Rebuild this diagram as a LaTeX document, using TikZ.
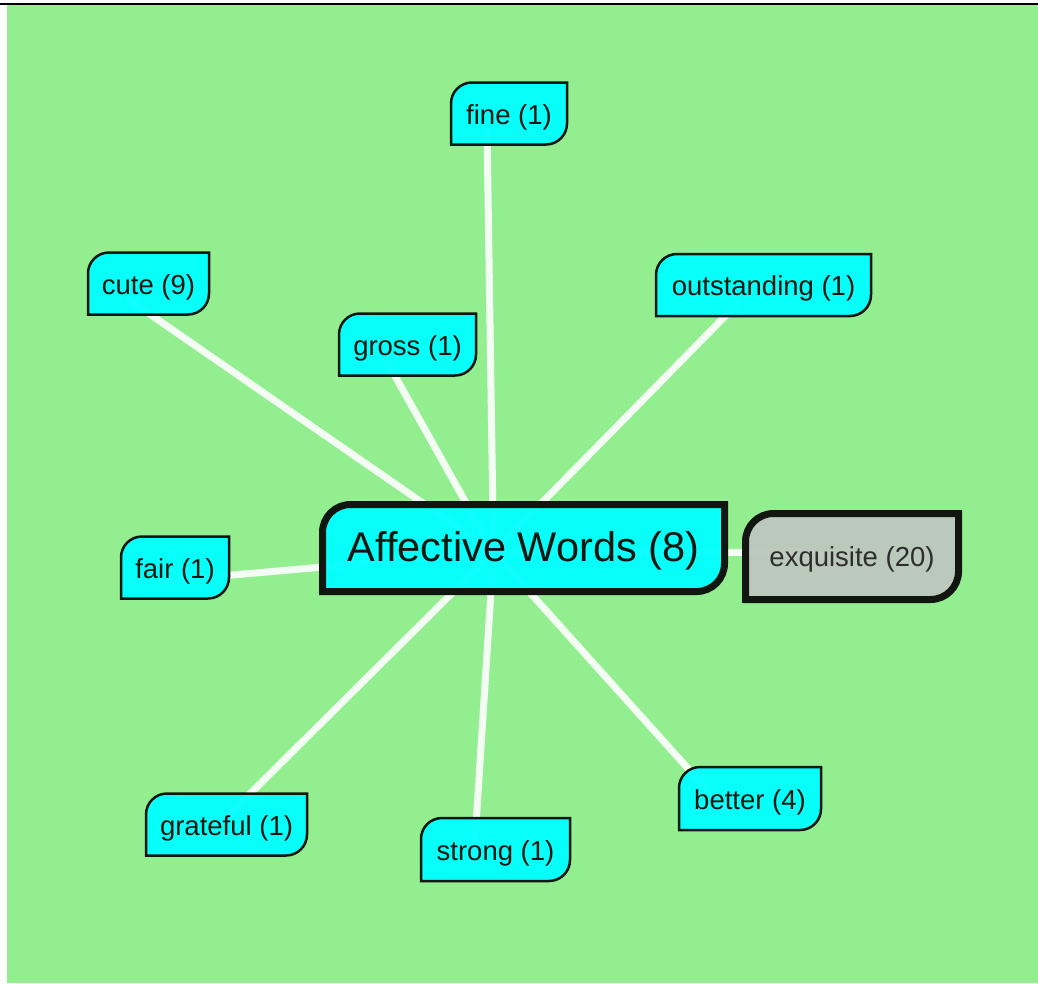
\documentclass[tikz,border=0pt]{standalone}
\usepackage{fontspec}
\setmainfont{Liberation Sans}
\usetikzlibrary{calc}
\pgfdeclarelayer{canvas}
\pgfdeclarelayer{links}
\pgfsetlayers{canvas,links,main}

\definecolor{meadow}{RGB}{147,238,144}
\definecolor{aqua}{RGB}{0,255,255}
\definecolor{stone}{RGB}{188,200,190}
\definecolor{ink}{RGB}{17,22,17}
\definecolor{greytext}{RGB}{45,45,45}

\tikzset{
  leafbox/.style={draw=ink, line width=2.5pt, fill=aqua, fill opacity=0.94, line join=miter},
  hubbox/.style={draw=ink, line width=7pt, fill=aqua, fill opacity=0.94, line join=miter},
  seedbox/.style={draw=ink, line width=7pt, fill=stone, fill opacity=0.96, line join=miter},
  leaftext/.style={inner sep=0pt, text=ink, yshift=-3.5pt, font=\fontsize{27.5}{33}\selectfont},
  hubtext/.style={inner sep=0pt, text=ink, yshift=-3pt, font=\fontsize{41.5}{48}\selectfont},
  seedtext/.style={inner sep=0pt, text=greytext, yshift=-3pt, font=\fontsize{27.5}{33}\selectfont},
  link/.style={draw=white, line width=7pt, draw opacity=0.9},
}

% outline with a rounded top-left and bottom-right corner
% #1 style, #2 cx, #3 cy, #4 width, #5 height, #6 radius  (y grows downwards)
\newcommand\leafoutline[6]{%
  \path[#1] ({#2-#4/2},{#3+#5/2})
    -- ({#2-#4/2},{#3-#5/2+#6})
    .. controls ({#2-#4/2},{#3-#5/2+0.448*#6}) and ({#2-#4/2+0.448*#6},{#3-#5/2}) ..
       ({#2-#4/2+#6},{#3-#5/2})
    -- ({#2+#4/2},{#3-#5/2})
    -- ({#2+#4/2},{#3+#5/2-#6})
    .. controls ({#2+#4/2},{#3+#5/2-0.448*#6}) and ({#2+#4/2-0.448*#6},{#3+#5/2}) ..
       ({#2+#4/2-#6},{#3+#5/2})
    -- cycle;}

% #1 box style, #2 text style, #3 name, #4 cx, #5 cy, #6 w, #7 h, #8 r, #9 label
\newcommand\wordtag[9]{%
  \leafoutline{#1}{#4}{#5}{#6}{#7}{#8}
  \node[#2, minimum width=#6pt, minimum height=#7pt] (#3) at (#4,#5) {#9};}

\begin{document}
\begin{tikzpicture}[x=1pt, y=-1pt]
\useasboundingbox (0,0) rectangle (1038,983);

\begin{pgfonlayer}{canvas}
  \fill[meadow] (7,5) rectangle (1038,983);
  \fill[black] (0,3) rectangle (1038,5);
\end{pgfonlayer}

% central term and its neighbours
\wordtag{hubbox}{hubtext}{hub}{523.5}{548}{402}{87}{28}{Affective Words (8)}
\wordtag{seedbox}{seedtext}{exq}{852}{556.5}{213}{86}{28}{exquisite (20)}

\wordtag{leafbox}{leaftext}{fine}{509}{113.5}{116}{62}{21}{fine (1)}
\wordtag{leafbox}{leaftext}{cute}{148.5}{283.5}{121}{62}{21}{cute (9)}
\wordtag{leafbox}{leaftext}{gross}{407.5}{344.5}{137}{62}{21}{gross (1)}
\wordtag{leafbox}{leaftext}{outst}{763.5}{285}{215}{62}{21}{outstanding (1)}
\wordtag{leafbox}{leaftext}{fair}{175}{567.5}{108}{62}{21}{fair (1)}
\wordtag{leafbox}{leaftext}{grate}{226.5}{824.5}{161}{62}{21}{grateful (1)}
\wordtag{leafbox}{leaftext}{strong}{495.5}{849.5}{149}{63}{21}{strong (1)}
\wordtag{leafbox}{leaftext}{better}{750}{798.5}{142}{63}{21}{better (4)}

% link ends (label nodes sit a few points below the box centres)
\coordinate (hub-a) at ($(hub.center)+(-30,1)$);
\coordinate (exq-a) at ($(exq.center)+(-30,-7)$);
\foreach \n in {fine,cute,gross,outst,fair,grate,strong,better}
  \coordinate (\n-a) at ($(\n.center)+(-22,11)$);

\begin{pgfonlayer}{links}
  \foreach \n in {fine,cute,gross,outst,fair,grate,strong,better,exq}
    \draw[link] (hub-a) -- (\n-a);
\end{pgfonlayer}
\end{tikzpicture}
\end{document}
